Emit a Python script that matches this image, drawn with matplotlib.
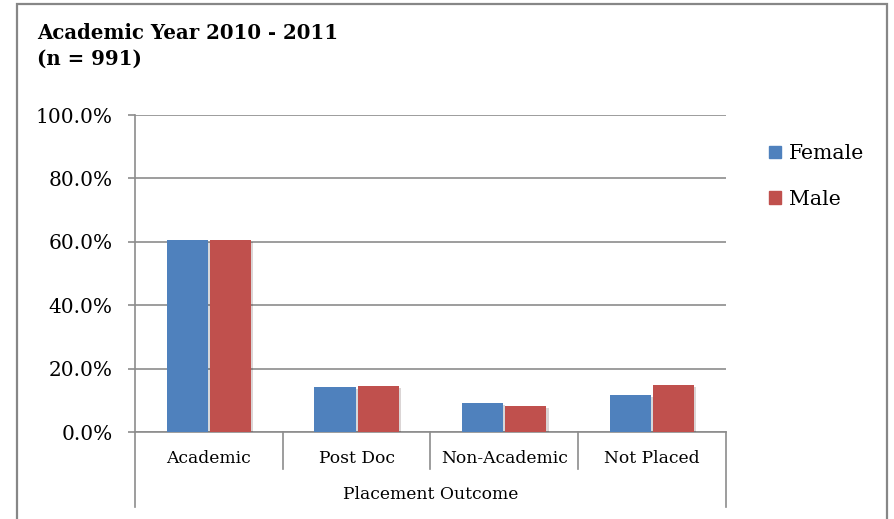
import matplotlib.pyplot as plt
import matplotlib.patheffects as pe
from matplotlib.patches import Rectangle, Patch
import numpy as np

categories = ['Academic', 'Post Doc', 'Non-Academic', 'Not Placed']
female = [60.6, 14.1, 9.1, 11.6]
male = [60.6, 14.5, 8.1, 14.9]
title = 'Academic Year 2010 - 2011\n(n = 991)'
x_title = 'Placement Outcome'

plt.rcParams['font.family'] = ['DejaVu Serif']

fig = plt.figure(figsize=(8.94, 5.19), dpi=100)
ax = fig.add_axes([0.151, 0.1676, 0.661, 0.6108])

# outer chart frame
fig.patches.append(Rectangle((0.019, -0.1), 0.973, 1.0923, transform=fig.transFigure,
                             fill=False, edgecolor='#878787', linewidth=1.6))

x = np.arange(len(categories))
w = 0.278
shadow = [pe.SimplePatchShadow(offset=(1.5, -1.5), alpha=0.18), pe.Normal()]
ax.bar(x - w / 2 - 0.007, female, w, color='#4F81BD', label='Female', zorder=3, path_effects=shadow)
ax.bar(x + w / 2 + 0.007, male, w, color='#C0504D', label='Male', zorder=3, path_effects=shadow)

ax.set_xlim(-0.5, len(categories) - 0.5)
ax.set_ylim(0, 100)
ax.set_yticks(np.arange(0, 101, 20))
ax.set_yticklabels([f'{v:.1f}%' for v in np.arange(0, 101, 20)], fontsize=14.5)
ax.yaxis.grid(True, color='#8c8c8c', linewidth=1.2, zorder=0)
ax.tick_params(axis='y', length=5, width=1.2, color='#8c8c8c', pad=11)

ax.set_xticks(x)
ax.set_xticklabels(categories, fontsize=12.3)
ax.tick_params(axis='x', length=0, pad=13)

for s in ['top', 'right']:
    ax.spines[s].set_visible(False)
for s in ['left', 'bottom']:
    ax.spines[s].set_color('#8c8c8c')
    ax.spines[s].set_linewidth(1.2)

# tiered category axis lines
trans = ax.get_xaxis_transform()
for b in x[:-1] + 0.5:
    ax.plot([b, b], [0, -0.117], transform=trans, color='#8c8c8c', lw=1.2, clip_on=False)
for b in [-0.5, len(categories) - 0.5]:
    ax.plot([b, b], [0, -0.237], transform=trans, color='#8c8c8c', lw=1.2, clip_on=False)
ax.text(0.5, -0.196, x_title, transform=ax.transAxes, ha='center', va='center', fontsize=12.3)

fig.text(0.041, 0.912, title, ha='left', va='center', fontsize=14.2, fontweight='bold', linespacing=1.35)

handles = [Patch(color='#4F81BD'), Patch(color='#C0504D')]
fig.legend(handles, ['Female', 'Male'], loc='center left', bbox_to_anchor=(0.84, 0.66),
           frameon=False, fontsize=14.7, handlelength=0.55, handleheight=0.55,
           handletextpad=0.4, labelspacing=1.3)

fig.savefig('out.png', dpi=100)
